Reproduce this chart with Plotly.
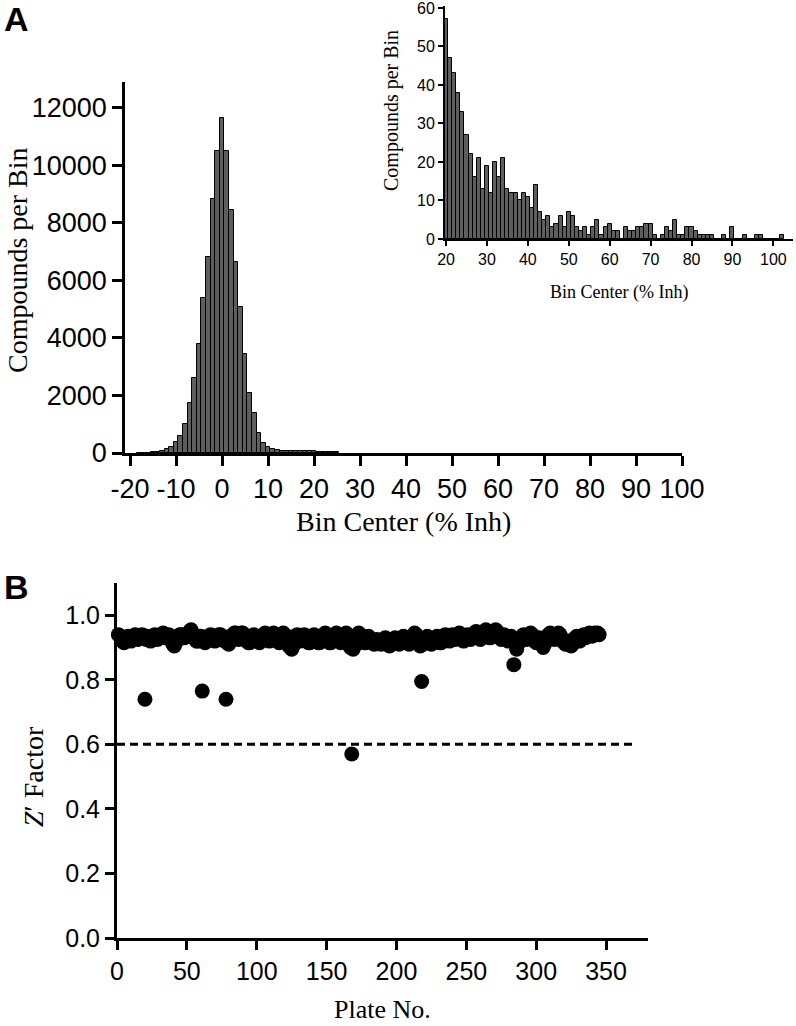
import plotly.graph_objects as go

# ---- panel A: main histogram (bin centers -18..19), tail continues with inset data
main_centers = list(range(-18, 20))
main_counts = [4, 8, 15, 30, 50, 80, 130, 210, 390, 590,
               1000, 1740, 2620, 3790, 5400, 6800, 8830, 10500, 11650, 10500,
               8450, 6640, 5060, 3440, 2080, 1380, 680, 360, 210, 130,
               100, 85, 75, 70, 66, 63, 61, 59]

# ---- panel A inset: bin centers 20..102
inset_centers = list(range(20, 103))
inset_counts = [57, 47, 43, 38, 33, 27, 22, 16, 21, 13,
                19, 12, 20, 16, 21, 13, 12, 12, 10, 12,
                11, 8, 14, 7, 5, 6, 3, 4, 6, 3,
                7, 6, 3, 2, 3, 1, 3, 5, 1, 3,
                4, 2, 2, 0, 3, 2, 2, 3, 3, 4,
                4, 1, 0, 1, 3, 2, 5, 1, 1, 3,
                3, 2, 1, 1, 1, 1, 0, 0, 1, 0,
                3, 0, 0, 1, 0, 0, 1, 1, 0, 0,
                0, 0, 1]

main_ticks = [-20, -10, 0, 10, 20, 30, 40, 50, 60, 70, 80, 90, 100]
main_ticktext = ["-20", "-10", "0", "10", "20", "30", "40", "50", "60", "70", "80", "90", "100"]
main_yticks = [0, 2000, 4000, 6000, 8000, 10000, 12000]
main_yticktext = ["0", "2000", "4000", "6000", "8000", "10000", "12000"]
inset_xticks = [20, 30, 40, 50, 60, 70, 80, 90, 100]
inset_yticks = [0, 10, 20, 30, 40, 50, 60]

# ---- panel B: Z' factor per plate (plates 1..345)
z_factor = [
    0.94, 0.935, 0.93, 0.92, 0.915, 0.92, 0.93, 0.935, 0.93, 0.92, 0.925, 0.935, 0.94, 0.935, 0.925,
    0.93, 0.935, 0.94, 0.935, 0.74, 0.925, 0.935, 0.93, 0.92, 0.925, 0.935, 0.94, 0.935, 0.925, 0.93,
    0.935, 0.94, 0.945, 0.94, 0.93, 0.935, 0.94, 0.93, 0.92, 0.91, 0.905, 0.915, 0.925, 0.935, 0.94,
    0.94, 0.935, 0.93, 0.935, 0.94, 0.945, 0.95, 0.955, 0.945, 0.935, 0.925, 0.92, 0.92, 0.93, 0.935,
    0.765, 0.925, 0.915, 0.92, 0.93, 0.935, 0.94, 0.935, 0.925, 0.92, 0.925, 0.935, 0.94, 0.94, 0.935,
    0.93, 0.92, 0.74, 0.915, 0.91, 0.92, 0.93, 0.94, 0.945, 0.945, 0.935, 0.925, 0.935, 0.945, 0.945,
    0.94, 0.93, 0.92, 0.915, 0.915, 0.92, 0.93, 0.94, 0.935, 0.925, 0.92, 0.915, 0.92, 0.93, 0.94,
    0.945, 0.935, 0.925, 0.92, 0.93, 0.94, 0.945, 0.94, 0.93, 0.92, 0.915, 0.925, 0.935, 0.945, 0.94,
    0.93, 0.915, 0.905, 0.90, 0.895, 0.905, 0.92, 0.935, 0.94, 0.93, 0.92, 0.925, 0.935, 0.94, 0.93,
    0.92, 0.915, 0.915, 0.925, 0.935, 0.94, 0.93, 0.92, 0.915, 0.915, 0.925, 0.935, 0.94, 0.945, 0.935,
    0.925, 0.915, 0.915, 0.92, 0.93, 0.94, 0.945, 0.935, 0.925, 0.915, 0.92, 0.93, 0.94, 0.945, 0.935,
    0.92, 0.90, 0.57, 0.895, 0.905, 0.925, 0.94, 0.945, 0.94, 0.93, 0.92, 0.915, 0.915, 0.925, 0.935,
    0.93, 0.92, 0.915, 0.91, 0.915, 0.925, 0.92, 0.915, 0.91, 0.915, 0.925, 0.93, 0.92, 0.915, 0.905,
    0.91, 0.915, 0.925, 0.93, 0.92, 0.915, 0.91, 0.915, 0.925, 0.935, 0.93, 0.92, 0.915, 0.91, 0.915,
    0.925, 0.935, 0.945, 0.94, 0.925, 0.915, 0.905, 0.795, 0.91, 0.915, 0.925, 0.935, 0.93, 0.915, 0.91,
    0.915, 0.92, 0.93, 0.935, 0.925, 0.915, 0.915, 0.92, 0.93, 0.94, 0.935, 0.925, 0.92, 0.93, 0.94,
    0.935, 0.925, 0.93, 0.94, 0.945, 0.94, 0.93, 0.92, 0.925, 0.935, 0.94, 0.935, 0.925, 0.93, 0.94,
    0.945, 0.95, 0.945, 0.935, 0.925, 0.93, 0.94, 0.95, 0.955, 0.95, 0.94, 0.93, 0.935, 0.945, 0.95,
    0.955, 0.95, 0.94, 0.93, 0.925, 0.935, 0.94, 0.935, 0.925, 0.92, 0.925, 0.935, 0.93, 0.847, 0.92,
    0.895, 0.91, 0.92, 0.93, 0.935, 0.94, 0.935, 0.925, 0.93, 0.94, 0.945, 0.94, 0.93, 0.92, 0.915,
    0.92, 0.93, 0.92, 0.91, 0.90, 0.91, 0.925, 0.935, 0.94, 0.945, 0.94, 0.93, 0.925, 0.935, 0.94,
    0.945, 0.94, 0.93, 0.92, 0.915, 0.91, 0.915, 0.92, 0.91, 0.905, 0.91, 0.92, 0.93, 0.935, 0.925,
    0.92, 0.925, 0.935, 0.94, 0.93, 0.935, 0.94, 0.945, 0.94, 0.935, 0.94, 0.945, 0.94, 0.945, 0.94,
]
plates = list(range(1, len(z_factor) + 1))
z_cutoff = 0.6
cutoff_span = [0, 370]

ARIAL = "Arial, Liberation Sans, Helvetica, sans-serif"
TIMES = "Times New Roman, Liberation Serif, serif"
BAR_FILL = "#5e5e5e"
W, H = 796, 1026


def px_x(a, b):
    return [a / W, b / W]


def px_y(top, bottom):
    return [1 - bottom / H, 1 - top / H]


def axis(rng, domain, anchor, tickvals, size, ticklen, lw, ticktext=None, fmt=None):
    d = dict(range=rng, domain=domain, anchor=anchor, showline=True, linecolor='black',
             linewidth=lw, ticks='outside', ticklen=ticklen, tickwidth=lw, tickcolor='black',
             showgrid=False, zeroline=False, tickvals=tickvals, fixedrange=True, automargin=False,
             ticklabeloverflow='allow',
             tickfont=dict(family=ARIAL, size=size, color='black'))
    if ticktext is not None:
        d['ticktext'] = ticktext
    if fmt is not None:
        d['tickformat'] = fmt
    return d


fig = go.Figure()

# main histogram: the visible tail runs a few bins into the inset range
main_x = main_centers + inset_centers[:6]
main_y = main_counts + inset_counts[:6]
fig.add_trace(go.Bar(x=main_x, y=main_y, width=1,
                     marker=dict(color=BAR_FILL, line=dict(color='black', width=1)),
                     xaxis='x', yaxis='y', showlegend=False))

fig.add_trace(go.Bar(x=inset_centers, y=inset_counts, width=1,
                     marker=dict(color=BAR_FILL, line=dict(color='black', width=1)),
                     xaxis='x2', yaxis='y2', showlegend=False))

fig.add_trace(go.Scatter(x=plates, y=z_factor, mode='markers',
                         marker=dict(color='black', size=15, line=dict(width=0)),
                         xaxis='x3', yaxis='y3', showlegend=False, cliponaxis=False))

fig.add_trace(go.Scatter(x=cutoff_span, y=[z_cutoff, z_cutoff], mode='lines',
                         line=dict(color='black', width=3, dash='8px,5px'),
                         xaxis='x3', yaxis='y3', showlegend=False))

fig.update_layout(
    template='none',
    width=W, height=H, margin=dict(l=0, r=0, t=0, b=0, pad=0), autosize=False,
    paper_bgcolor='white', plot_bgcolor='white', bargap=0,
    xaxis=axis([-21.09, 100], px_x(125, 682), 'y', main_ticks, 27, 10, 2.5, ticktext=main_ticktext),
    yaxis=axis([0, 12900], px_y(82, 453), 'x', main_yticks, 27, 10, 2.5, ticktext=main_yticktext),
    xaxis2=axis([19.75, 104.8], px_x(445, 793), 'y2', inset_xticks, 16, 5, 2),
    yaxis2=axis([0, 60.5], px_y(6, 239), 'x2', inset_yticks, 16, 5, 2),
    xaxis3=axis([0, 380], px_x(117, 648), 'y3', list(range(0, 351, 50)), 25, 9, 3),
    yaxis3=axis([0, 1.1], px_y(583, 938), 'x3', [0, 0.2, 0.4, 0.6, 0.8, 1.0], 25, 9, 3, fmt='.1f'),
)

notes = [
    dict(text="<b>A</b>", x=16, y=19, size=34, family=ARIAL, angle=0),
    dict(text="<b>B</b>", x=16, y=587, size=34, family=ARIAL, angle=0),
    dict(text="Compounds per Bin", x=17, y=260, size=28, family=TIMES, angle=-90),
    dict(text="Bin Center (% Inh)", x=403, y=521, size=28, family=TIMES, angle=0),
    dict(text="Compounds per Bin", x=392, y=111, size=20, family=TIMES, angle=-90),
    dict(text="Bin Center (% Inh)", x=619, y=292, size=18, family=TIMES, angle=0),
    dict(text="<i>Z</i>′ Factor", x=33, y=777, size=28, family=TIMES, angle=-90),
    dict(text="Plate No.", x=382, y=1009, size=26, family=TIMES, angle=0),
]
for n in notes:
    fig.add_annotation(text=n['text'], x=n['x'] / W, y=1 - n['y'] / H, xref='paper', yref='paper',
                       xanchor='center', yanchor='middle', showarrow=False, textangle=n['angle'],
                       font=dict(family=n['family'], size=n['size'], color='black'))

# drop the browser's default 8px body margin so the figure sits at the page corner
fig.write_html("out.html", config={'displayModeBar': False},
               post_script="document.body.style.margin='0';document.body.style.overflow='hidden';")
